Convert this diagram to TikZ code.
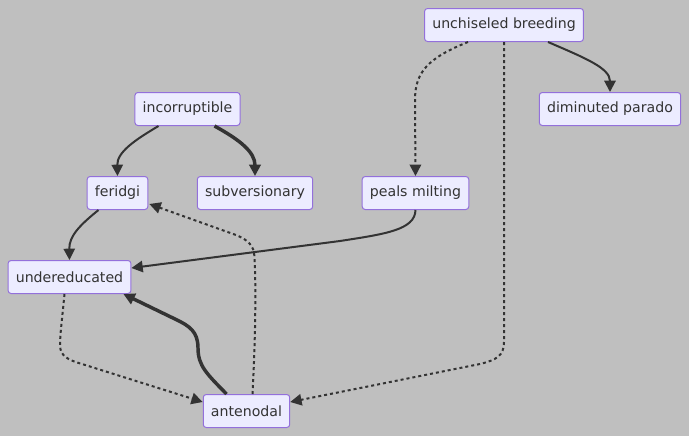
\documentclass[tikz,border=0pt]{standalone}
\usepackage{fontspec}
\setmainfont{DejaVu Sans}
\usepackage{tikz}
\usetikzlibrary{arrows.meta}
\usetikzlibrary{calc}

\definecolor{bgGray}{RGB}{191,191,191}
\definecolor{boxFill}{RGB}{236,236,255}
\definecolor{boxLine}{RGB}{147,112,219}
\definecolor{inkGray}{RGB}{51,51,51}

\tikzset{
  box/.style={draw=boxLine, fill=boxFill, line width=0.75pt,
    rounded corners=2.25pt, minimum height=24.75pt, inner xsep=5.8pt,
    text=inkGray, font=\fontsize{10.6}{12}\selectfont},
  link/.style={draw=inkGray, line width=1.5pt,
    -{Triangle[length=8.5pt,width=8.5pt]}},
  heavylink/.style={draw=inkGray, line width=2.6pt,
    -{Triangle[length=8.5pt,width=8.5pt]}},
  dottedlink/.style={draw=inkGray, line width=1.5pt,
    -{Triangle[length=8.5pt,width=8.5pt]},
    dash pattern=on 2.25pt off 2.25pt}
}

\begin{document}
\begin{tikzpicture}[x=0.75pt, y=-0.75pt]
\fill[bgGray] (0,0) rectangle (689,436);
\useasboundingbox (0,0) rectangle (689,436);

\node[box] (unchiseled) at (504,25) {unchiseled breeding};
\node[box] (diminuted) at (610,109) {diminuted parado};
\node[box] (incorruptible) at (187.5,109) {incorruptible};
\node[box] (feridgi) at (117.5,193) {feridgi};
\node[box] (subversionary) at (255,193) {subversionary};
\node[box] (peals) at (415.5,193) {peals milting};
\node[box] (undereducated) at (69.5,277) {undereducated};
\node[box] (antenodal) at (246.5,411) {antenodal};

\draw[link] ($(unchiseled.south)+(44,0)$)
  .. controls (585,58) and (610,68) .. (diminuted.north);
\draw[dottedlink] ($(unchiseled.south)+(-36,0)$)
  .. controls (428,58) and (415,72) .. (415,100) -- (peals.north);
\draw[dottedlink] (unchiseled.south) -- (504,342)
  .. controls (504,356) and (496,360) .. (480,364)
  -- ($(antenodal.east)+(0,-9)$);
\draw[link] ($(incorruptible.south)+(-29,0)$)
  .. controls (135,140) and (117,152) .. (feridgi.north);
\draw[heavylink] ($(incorruptible.south)+(27,0)$)
  .. controls (240,140) and (255,152) .. (subversionary.north);
\draw[link] ($(feridgi.south)+(-19,0)$)
  .. controls (80,225) and (69,236) .. (undereducated.north);
\draw[link] (peals.south)
  .. controls (415,230) and (385,234) .. (340,241)
  -- ($(undereducated.east)+(0,-9)$);
\draw[dottedlink] ($(antenodal.north)+(6,0)$)
  .. controls (256,330) and (256,270) .. (254,252)
  .. controls (252,244) and (246,239) .. (236,235)
  -- ($(feridgi.east)+(1,11)$);
\draw[heavylink] ($(antenodal.north)+(-20,0)$)
  .. controls (207,374) and (198,366) .. (198,348)
  .. controls (198,332) and (190,326) .. (175,319)
  -- ($(undereducated.south east)+(-8,0)$);
\draw[dottedlink] ($(undereducated.south)+(-5,0)$)
  .. controls (62,320) and (60,335) .. (60,345)
  .. controls (60,356) and (68,360) .. (82,364)
  -- ($(antenodal.west)+(0,-9)$);
\end{tikzpicture}
\end{document}
